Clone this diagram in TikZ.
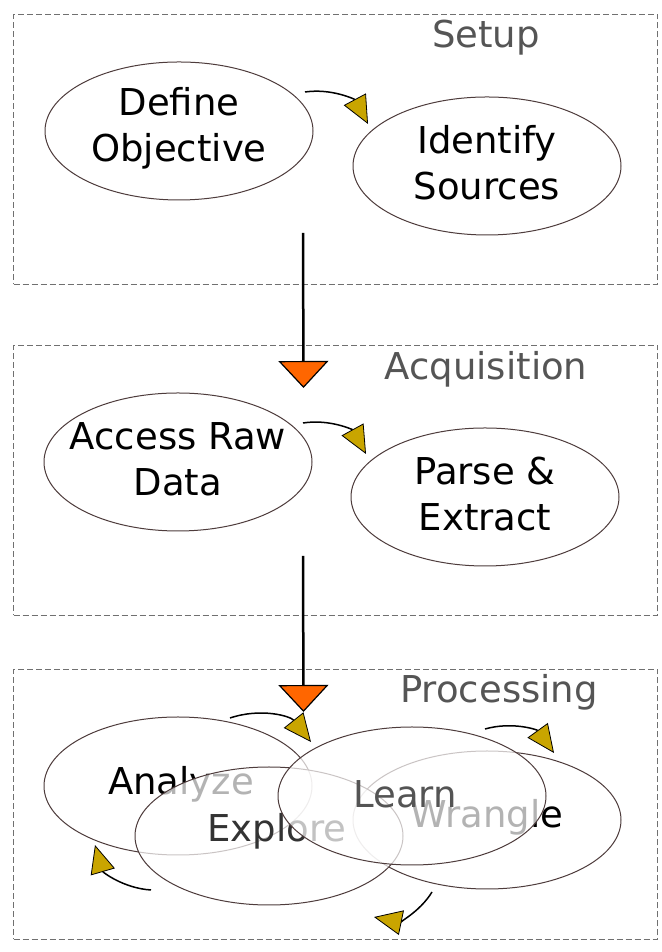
\documentclass[tikz,border=0pt]{standalone}
\usepackage{fontspec}
\setmainfont{DejaVu Sans}
\usetikzlibrary{arrows.meta,shapes.geometric,calc}
\definecolor{gold}{HTML}{C9A500}
\definecolor{orng}{HTML}{FF6600}
\definecolor{edgec}{HTML}{4E3C3C}
\definecolor{boxc}{HTML}{707070}
\definecolor{labc}{HTML}{555555}
\tikzset{
 ell/.style={ellipse, draw=edgec, line width=1pt, fill=white, fill opacity=0.7, minimum width=268pt, minimum height=138pt, inner sep=0pt},
 txt/.style={font=\fontsize{37}{46}\selectfont, align=center, inner sep=0pt, text=black},
 cluster/.style={draw=boxc, dash pattern=on 6pt off 3pt, line width=1.1pt, minimum width=644pt, minimum height=270pt, anchor=south west, inner sep=0pt},
 clab/.style={font=\fontsize{37}{44}\selectfont, text=labc, inner sep=0pt},
 flow/.style={-{Triangle[length=28pt,width=25pt,fill=gold,color=black,line width=0.8pt]}, line width=1.5pt, bend left=35},
 big/.style={-{Triangle[length=27pt,width=50pt,fill=orng,color=black,line width=1.2pt]}, line width=2.5pt},
}
\begin{document}
\begin{tikzpicture}[x=1pt,y=1pt]
\useasboundingbox (0,0) rectangle (661,952);
\fill[white] (0,0) rectangle (661,952);
% clusters
\node[cluster] (setup) at (13,667) {};
\node[cluster] (acq) at (13,336) {};
\node[cluster] (proc) at (13,12) {};
\node[clab] (setupl) at (486,914) {Setup};
\node[clab] (acql) at (486,583) {Acquisition};
\node[clab] (procl) at (499,260) {Processing};
% setup
\node[ell] (def) at (179,821) {};
\node[txt] (deft) at (179,824) {Define\\Objective};
\node[ell] (ids) at (487,786) {};
\node[txt] (idst) at (487,789) {Identify\\Sources};
\coordinate (f1s) at (305,860);
\coordinate (f1e) at (368,828);
\draw[flow] (f1s) to (f1e);
% acquisition
\node[ell] (acc) at (178,490) {};
\node[txt] (acct) at (178,493) {Access Raw\\Data};
\node[ell] (par) at (485,455) {};
\node[txt] (part) at (485,458) {Parse \&\\Extract};
\coordinate (f2s) at (303,529);
\coordinate (f2e) at (366,498);
\draw[flow] (f2s) to (f2e);
% big arrows
\coordinate (b1s) at (303,719);
\coordinate (b1e) at (303.5,564);
\draw[big] (b1s) -- (b1e);
\coordinate (b2s) at (303,396);
\coordinate (b2e) at (303.5,240);
\draw[big] (b2s) -- (b2e);
% processing
\node[ell] (ana) at (178,166) {};
\node[txt] (anat) at (181,168) {Analyze};
\node[ell] (wra) at (487,132) {};
\node[txt] (wrat) at (487,135) {Wrangle};
\node[ell] (exp) at (269,116) {};
\node[txt, text=black!80] (expt) at (277,121) {Explore};
\node[ell] (lea) at (412,156) {};
\node[txt, text=black!67] (leat) at (405,158) {Learn};
\coordinate (p1s) at (230,234);
\coordinate (p1e) at (311,210);
\draw[flow] (p1s) to (p1e);
\coordinate (p2s) at (485,223);
\coordinate (p2e) at (554,199);
\draw[flow] (p2s) to (p2e);
\coordinate (p3s) at (432,60);
\coordinate (p3e) at (374,35);
\draw[flow] (p3s) to (p3e);
\coordinate (p4s) at (151,62);
\coordinate (p4e) at (95,107);
\draw[flow] (p4s) to (p4e);
\end{tikzpicture}
\end{document}
